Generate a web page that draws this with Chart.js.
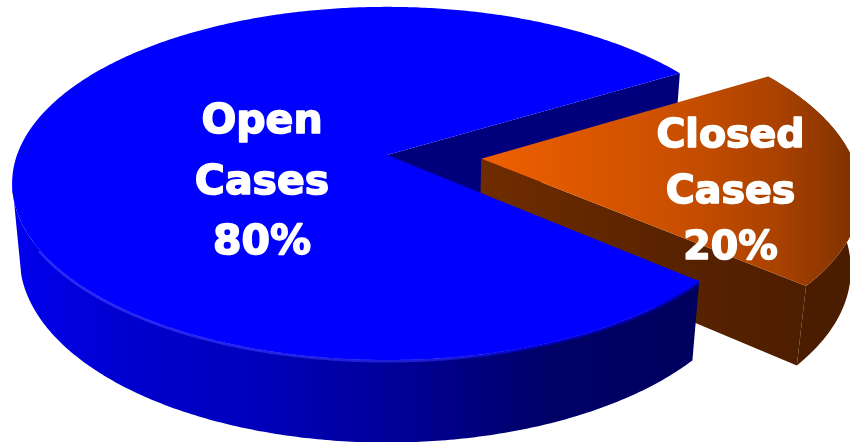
<!DOCTYPE html>
<html>
<head>
<meta charset="utf-8">
<title>Cases</title>
<script src="https://cdn.jsdelivr.net/npm/chart.js@4"></script>
<style>
  html, body { margin: 0; padding: 0; background: #fff; }
  canvas { display: block; }
</style>
</head>
<body>
<canvas id="pie" width="850" height="442"></canvas>
<script>
// chart data
const categories = ['Open Cases', 'Closed Cases'];
const shares = [80, 20];
const sliceColors = ['#0000ff', '#e85a00'];
const explodeOffsets = [0, 50];

// the perspective the pie is seen through
const view = { x: 387, y: 155, rx: 370, ry: 172, tilt: 0.161, depth: 75, shrink: 0.02 };

// label blocks: centre x, first baseline, line step, font size
const labelAnchors = [[262, 133, 60.5, 41], [730.5, 147, 56, 39.5]];

function project(px, py, h) {
  const w = 1 - view.tilt * py + view.shrink * h;
  return [view.x + view.rx * px / w, view.y + (view.ry * py + view.depth * h) / w];
}

function ringPoints(a0, a1, h, ox, oy) {
  const pts = [];
  const steps = Math.max(2, Math.ceil(Math.abs(a1 - a0) / 0.01));
  for (let i = 0; i <= steps; i++) {
    const a = a0 + (a1 - a0) * i / steps;
    pts.push(project(Math.cos(a) + ox, Math.sin(a) + oy, h));
  }
  return pts;
}

function tracePath(ctx, pts) {
  ctx.beginPath();
  pts.forEach((p, i) => i ? ctx.lineTo(p[0], p[1]) : ctx.moveTo(p[0], p[1]));
}

function fillPath(ctx, pts, style) {
  tracePath(ctx, pts);
  ctx.closePath();
  ctx.fillStyle = style;
  ctx.fill();
}

function hGradient(ctx, x0, x1, stops) {
  const g = ctx.createLinearGradient(x0, 0, x1, 0);
  stops.forEach(s => g.addColorStop(s[0], s[1]));
  return g;
}

// Chart.js works out the angles, this plugin does the 3D drawing from them
const pie3d = {
  id: 'pie3d',
  beforeDatasetDraw(chart) {
    const ctx = chart.ctx;
    const [open, closed] = chart.getDatasetMeta(0).data;

    // offset of the pulled out slice, in pie radii
    const mid = (closed.startAngle + closed.endAngle) / 2;
    const ex = closed.options.offset / closed.outerRadius;
    const ox = Math.cos(mid) * ex;
    const oy = Math.sin(mid) * ex;

    // inner wall of the blue slice, only seen through the gap
    const a = open.endAngle;
    fillPath(ctx, [
      project(0, 0, 0),
      project(Math.cos(a), Math.sin(a), 0),
      project(Math.cos(a), Math.sin(a), 1),
      project(0, 0, 1)
    ], '#00007c');

    // orange slice
    const s0 = closed.startAngle, s1 = closed.endAngle;
    fillPath(ctx, [
      project(ox, oy, 0),
      project(Math.cos(s1) + ox, Math.sin(s1) + oy, 0),
      project(Math.cos(s1) + ox, Math.sin(s1) + oy, 1),
      project(ox, oy, 1)
    ], hGradient(ctx, 482, 800, [[0, '#702c00'], [0.5, '#5c2400'], [1, '#4e1e00']]));
    fillPath(ctx,
      ringPoints(s0, s1, 0, ox, oy).concat(ringPoints(s1, s0, 1, ox, oy)),
      '#4a1d00');
    fillPath(ctx,
      [project(ox, oy, 0)].concat(ringPoints(s0, s1, 0, ox, oy)),
      hGradient(ctx, 482, 850, [[0, '#f06000'], [0.55, '#c84e00'], [0.8, '#aa4200'], [1, '#823200']]));

    // blue slice, outer wall up to the left silhouette
    const b0 = open.startAngle;
    const topEnd = Math.PI * 0.95;
    const bottomEnd = Math.PI * 0.92;
    fillPath(ctx,
      ringPoints(b0, topEnd, 0, 0, 0).concat(ringPoints(bottomEnd, b0, 1, 0, 0)),
      hGradient(ctx, 15, 695, [[0, '#0000ee'], [0.15, '#0000d0'], [0.35, '#0000bc'], [0.6, '#000090'], [0.78, '#000068'], [1, '#00005e']]));

    // soft edge between wall and top, brighter towards the left
    tracePath(ctx, ringPoints(b0, Math.PI * 0.83, 0, 0, 0));
    ctx.lineWidth = 5;
    ctx.strokeStyle = hGradient(ctx, 30, 700, [[0, 'rgba(60,60,255,0.7)'], [0.6, 'rgba(50,50,255,0.6)'], [0.75, 'rgba(0,0,255,0.6)'], [1, 'rgba(0,0,255,0.5)']]);
    ctx.stroke();

    fillPath(ctx,
      [project(0, 0, 0)].concat(ringPoints(b0, open.endAngle, 0, 0, 0)),
      sliceColors[0]);
    return false;
  },
  afterDatasetsDraw(chart) {
    const ctx = chart.ctx;
    ctx.save();
    ctx.textAlign = 'center';
    ctx.fillStyle = '#fff';
    ctx.strokeStyle = '#fff';
    ctx.lineWidth = 1.6;
    ctx.lineJoin = 'round';
    categories.forEach((name, i) => {
      const [x, y0, step, size] = labelAnchors[i];
      ctx.font = 'bold ' + size + 'px "DejaVu Sans"';
      name.split(' ').concat(shares[i] + '%').forEach((line, n) => {
        ctx.fillText(line, x, y0 + n * step);
        ctx.strokeText(line, x, y0 + n * step);
      });
    });
    ctx.restore();
  }
};

new Chart(document.getElementById('pie'), {
  type: 'pie',
  data: {
    labels: categories,
    datasets: [{
      data: shares,
      backgroundColor: sliceColors,
      offset: explodeOffsets,
      borderWidth: 0
    }]
  },
  options: {
    responsive: false,
    animation: false,
    rotation: 131,
    plugins: { legend: { display: false }, tooltip: { enabled: false } }
  },
  plugins: [pie3d]
});
</script>
</body>
</html>
